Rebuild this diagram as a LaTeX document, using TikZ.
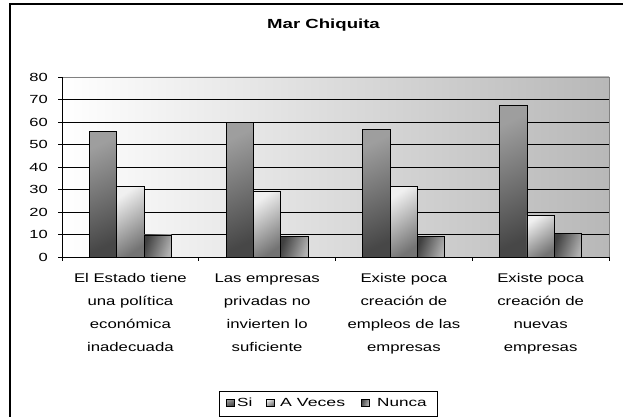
\documentclass[tikz,border=0pt]{standalone}
\usepackage{fontspec}
\setmainfont{Liberation Sans}
\newcommand{\wide}[2]{\scalebox{#1}[1]{#2}}
\begin{document}
\begin{tikzpicture}[x=1pt,y=-1pt,
  txt/.style={inner sep=0pt, font=\fontsize{11.8}{14}\selectfont},
  lab/.style={inner sep=0pt, font=\fontsize{12.6}{14}\selectfont},
  grid/.style={black, line width=0.9pt},
  barline/.style={black, line width=0.9pt},
  sibar/.style={top color=black!38, bottom color=black!72, shading angle=25},
  avbar/.style={top color=black!6, bottom color=black!55, shading angle=35},
  nubar/.style={left color=black!75, right color=black!30, shading angle=70},
]
\useasboundingbox (0,0) rectangle (623,417);
\begin{scope}
\clip (0,0) rectangle (623,417);
\fill[white] (0,0) rectangle (623,417);
\draw[line width=2pt] (9.5,4.5) rectangle (700,500);
% plot area
\shade[left color=white, right color=black!28] (62,77) rectangle (609,257);
\draw[black!50, line width=0.9pt] (62,77) -- (609,77) -- (609,257);
\foreach \v in {10,20,...,70} {
  \draw[grid] (62,{257-2.25*\v}) -- (609,{257-2.25*\v});
}
% bars
\def\cw{136.75}
\def\bw{27.35}
\foreach \k/\a/\b/\c in {0/55.7/31.4/9.8, 1/59.8/29/9, 2/56.7/31.4/9, 3/67.4/18.5/10.4} {
  \pgfmathsetmacro{\xs}{62+\k*\cw+\bw}
  \shade[sibar] (\xs,257) rectangle ({\xs+\bw},{257-2.25*\a});
  \draw[barline] (\xs,257) rectangle ({\xs+\bw},{257-2.25*\a});
  \shade[avbar] ({\xs+\bw},257) rectangle ({\xs+2*\bw},{257-2.25*\b});
  \draw[barline] ({\xs+\bw},257) rectangle ({\xs+2*\bw},{257-2.25*\b});
  \shade[nubar] ({\xs+2*\bw},257) rectangle ({\xs+3*\bw},{257-2.25*\c});
  \draw[barline] ({\xs+2*\bw},257) rectangle ({\xs+3*\bw},{257-2.25*\c});
}
% axes
\draw[black, line width=1pt] (62,77) -- (62,257) -- (609,257);
\foreach \v in {0,10,...,80} {
  \draw[black, line width=0.9pt] (58,{257-2.25*\v}) -- (62,{257-2.25*\v});
  \node[txt, anchor=base east] (y\v) at (48,{257-2.25*\v+4.2}) {\wide{1.4}{\v}};
}
\foreach \k in {0,1,2,3,4} {
  \draw[black, line width=0.9pt] ({62+\k*\cw},257) -- ({62+\k*\cw},261);
}
% title
\node[inner sep=0pt, font=\bfseries\fontsize{13.2}{15}\selectfont, anchor=base] (title) at (323.5,28.3) {\wide{1.41}{Mar Chiquita}};
% category labels
\foreach \k/\la/\lb/\lc/\ld in {
  0/El Estado tiene/una política/económica/inadecuada,
  1/Las empresas/privadas no/invierten lo/suficiente,
  2/Existe poca/creación de/empleos de las/empresas,
  3/Existe poca/creación de/nuevas/empresas} {
  \pgfmathsetmacro{\cx}{62+(\k+0.5)*\cw}
  \node[lab, anchor=base] (c\k a) at (\cx,282) {\wide{1.33}{\la}};
  \node[lab, anchor=base] (c\k b) at (\cx,305) {\wide{1.33}{\lb}};
  \node[lab, anchor=base] (c\k c) at (\cx,328) {\wide{1.33}{\lc}};
  \node[lab, anchor=base] (c\k d) at (\cx,351) {\wide{1.33}{\ld}};
}
% legend
\draw[black, line width=1pt] (219,391) rectangle (437,416);
\shade[sibar] (226,399) rectangle (234,406);
\draw[black, line width=0.7pt] (226,399) rectangle (234,406);
\node[txt, anchor=base west] (lsi) at (237,406.5) {\wide{1.45}{Si}};
\shade[avbar] (266,399) rectangle (274,406);
\draw[black, line width=0.7pt] (266,399) rectangle (274,406);
\node[txt, anchor=base west] (lav) at (280,406.5) {\wide{1.5}{A Veces}};
\shade[nubar] (361,399) rectangle (369,406);
\draw[black, line width=0.7pt] (361,399) rectangle (369,406);
\node[txt, anchor=base west] (lnu) at (377,406.5) {\wide{1.45}{Nunca}};
\end{scope}
\end{tikzpicture}
\end{document}
